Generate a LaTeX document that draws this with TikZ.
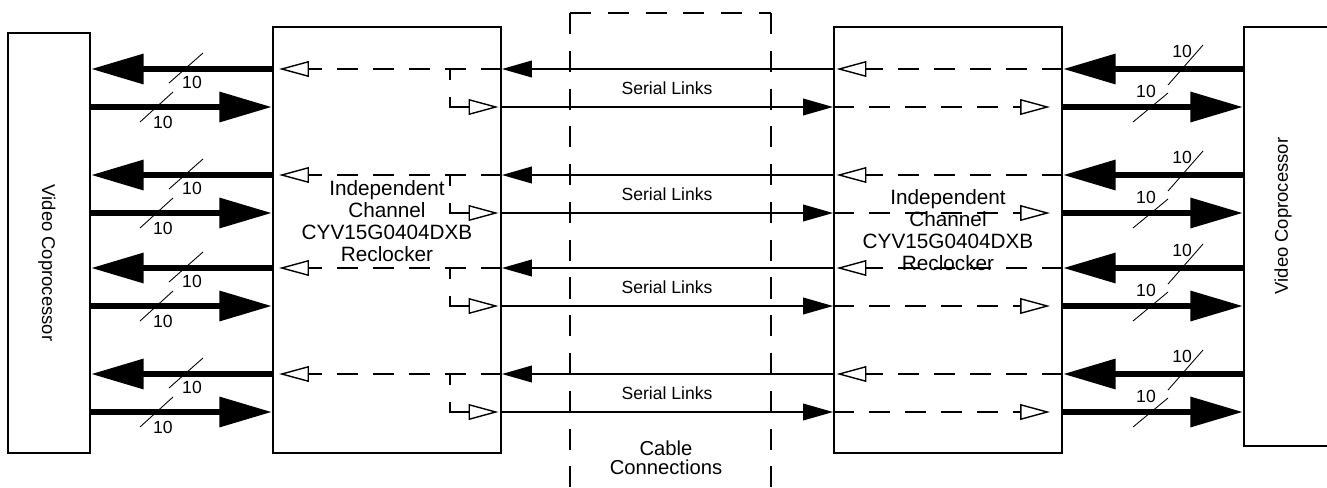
\documentclass[tikz,border=0pt]{standalone}
\usepackage{fontspec}
\setmainfont{Liberation Sans}
\usetikzlibrary{positioning,arrows.meta,fit}
\tikzset{box/.style={draw,line width=1.1pt,inner sep=0pt}}
\tikzset{bus/.style={line width=3.7pt,-{Triangle[length=30pt,width=16.5pt]}}}
\tikzset{link/.style={line width=0.8pt,-{Triangle[length=17pt,width=9.5pt]}}}
\tikzset{dsh/.style={line width=0.8pt,dash pattern=on 12pt off 8.5pt,-{Triangle[open,length=17pt,width=9pt]}}}
\tikzset{branch/.style={dsh,dash pattern=on 6.2pt off 9.6pt on 20pt off 5pt}}
\tikzset{tick/.style={line width=0.5pt}}
\tikzset{frame/.style={line width=0.9pt,dash pattern=on 12pt off 9.5pt}}
\tikzset{busno/.style={inner sep=0pt,font=\fontsize{10}{10}\selectfont}}
\tikzset{sltxt/.style={inner sep=0pt,font=\fontsize{10}{12}\selectfont}}
\tikzset{vtxt/.style={inner sep=0pt,font=\fontsize{10.5}{12}\selectfont}}
\tikzset{rtxt/.style={inner sep=0pt,align=center,font=\fontsize{11.8}{12.5}\selectfont}}
\tikzset{ctxt/.style={inner sep=0pt,align=center,font=\fontsize{11.5}{11}\selectfont}}

\begin{document}
\begin{tikzpicture}[x=0.02cm,y=-0.02cm]
            \useasboundingbox (0,0) rectangle (1327,487);
            \node[box,fit={(8,33) (90,453)}] (vcL) {};
            \node[box,fit={(273,27) (501,453)}] (reclkL) {};
            \node[box,fit={(834,27) (1062,453)}] (reclkR) {};
            \node[box,fit={(1244,27) (1345,446)}] (vcR) {};
            
            \node[vtxt,rotate=-90] (vcLtxt) at (47,263) {Video Coprocessor};
            \node[vtxt,rotate=90] (vcRtxt) at (1283,216) {Video Coprocessor};
            \node[rtxt] (rtxtL) at (387,221) {Independent\\Channel\\CYV15G0404DXB\\Reclocker};
            \node[rtxt] (rtxtR) at (948,230) {Independent\\Channel\\CYV15G0404DXB\\Reclocker};
            
            \draw[frame] (570,13) -- (771,13);
            \draw[frame] (570,13) -- (570,490);
            \draw[frame] (771,13) -- (771,490);
            \node[ctxt] (cable) at (666,458) {Cable\\Connections};
            
            \foreach \y [count=\i] in {69,175,268,374}{
                \coordinate (a\i) at (0,\y);
                \coordinate (b\i) at (0,\y+38);
                \coordinate (sp\i) at (450,\y);
                
                \draw[bus] (reclkL.west |- a\i) -- (vcL.east |- a\i);
                \draw[bus] (vcL.east |- b\i) -- (reclkL.west |- b\i);
                \draw[bus] (vcR.west |- a\i) -- (reclkR.east |- a\i);
                \draw[bus] (reclkR.east |- b\i) -- (vcR.west |- b\i);
                
                \draw[tick] (169,\y+14) -- (203,\y-16);
                \node[busno] (nLa\i) at (192,\y+13) {10};
                \draw[tick] (140,\y+53) -- (173,\y+23);
                \node[busno] (nLb\i) at (163,\y+53) {10};
                \draw[tick] (1168,\y+16) -- (1203,\y-24);
                \node[busno] (nRa\i) at (1182,\y-18) {10};
                \draw[tick] (1133,\y+53) -- (1168,\y+24);
                \node[busno] (nRb\i) at (1146,\y+22) {10};
                
                \draw[link] (reclkR.west |- a\i) -- (reclkL.east |- a\i);
                \draw[link] (reclkL.east |- b\i) -- (reclkR.west |- b\i);
                \node[sltxt] (sl\i) at (667,\y+19) {Serial Links};
                
                \draw[dsh,shorten >=4pt] (reclkL.east |- a\i) -- (reclkL.west |- a\i);
                \draw[branch,shorten >=2pt] (sp\i) |- (reclkL.east |- b\i);
                \draw[dsh,shorten >=2pt] (reclkR.east |- a\i) -- (reclkR.west |- a\i);
                \draw[dsh,shorten >=7.4pt] (reclkR.west |- b\i) -- (reclkR.east |- b\i);
            }
        \end{tikzpicture}
\end{document}
